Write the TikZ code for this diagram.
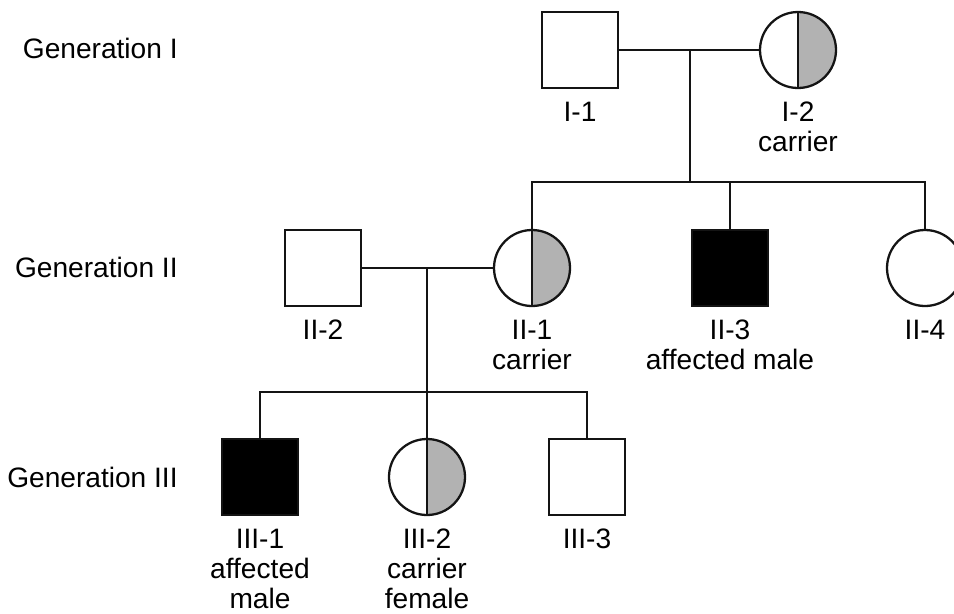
\documentclass[tikz,border=0pt]{standalone}
\usepackage{fontspec}
\setmainfont{Liberation Sans}
\usetikzlibrary{positioning}
\definecolor{pedLine}{RGB}{20,20,20}
\definecolor{pedCarrier}{RGB}{178,178,178}
\definecolor{pedAffected}{RGB}{0,0,0}

\begin{document}
\begin{tikzpicture}[
  male/.style={rectangle,draw=pedLine,line width=1.3pt,fill=white,minimum size=1.52cm,inner sep=0pt},
  female/.style={circle,draw=pedLine,line width=1.3pt,fill=white,minimum size=1.52cm,inner sep=0pt},
  affected/.style={fill=pedAffected},
  carrier/.style={path picture={
      \fill[pedCarrier] (path picture bounding box.north) rectangle (path picture bounding box.south east);
      \draw[pedLine,line width=1.3pt] (path picture bounding box.north) -- (path picture bounding box.south);}},
  tag/.style={align=center,inner sep=0pt,font=\fontsize{16}{17}\selectfont},
  gen/.style={anchor=east,inner sep=0pt,font=\fontsize{16}{17}\selectfont},
  link/.style={draw=pedLine,line width=1.3pt}
]
  \useasboundingbox (0,0) rectangle (19.08,-12.26);

  % generation labels
  \node[gen] (g1) at (3.56,-0.96) {Generation I};
  \node[gen] (g2) at (3.56,-5.34) {Generation II};
  \node[gen] (g3) at (3.56,-9.54) {Generation III};

  % generation I
  \node[male] (I1) at (11.6,-1.0) {};
  \node[female,carrier] (I2) at (15.96,-1.0) {};
  \coordinate (m1) at (13.8,-1.0);
  \coordinate (s1) at (13.8,-3.64);

  % generation II
  \node[male] (II2) at (6.46,-5.36) {};
  \node[female,carrier] (II1) at (10.64,-5.36) {};
  \node[male,affected] (II3) at (14.6,-5.36) {};
  \node[female] (II4) at (18.5,-5.36) {};
  \coordinate (m2) at (8.54,-5.36);
  \coordinate (s2) at (8.54,-7.84);

  % generation III
  \node[male,affected] (III1) at (5.2,-9.54) {};
  \node[female,carrier] (III2) at (8.54,-9.54) {};
  \node[male] (III3) at (11.74,-9.54) {};

  % lines of descent
  \draw[link] (I1) -- (I2);
  \draw[link] (m1) -- (s1);
  \draw[link] (II1.north) |- (s1) -| (II4.north);
  \draw[link] (II3.north) -- (II3.north |- s1);

  \draw[link] (II2) -- (II1);
  \draw[link] (m2) -- (s2);
  \draw[link] (III1.north) |- (s2) -| (III3.north);
  \draw[link] (s2) -- (III2.north);

  % individual tags
  \node[tag,below=0.25cm of I1] (tI1) {I-1};
  \node[tag,below=0.25cm of I2] (tI2) {I-2\\carrier};
  \node[tag,below=0.25cm of II2] (tII2) {II-2};
  \node[tag,below=0.25cm of II1] (tII1) {II-1\\carrier};
  \node[tag,below=0.25cm of II3] (tII3) {II-3\\affected male};
  \node[tag,below=0.25cm of II4] (tII4) {II-4};
  \node[tag,below=0.25cm of III1] (tIII1) {III-1\\affected\\male};
  \node[tag,below=0.25cm of III2] (tIII2) {III-2\\carrier\\female};
  \node[tag,below=0.25cm of III3] (tIII3) {III-3};
\end{tikzpicture}
\end{document}
